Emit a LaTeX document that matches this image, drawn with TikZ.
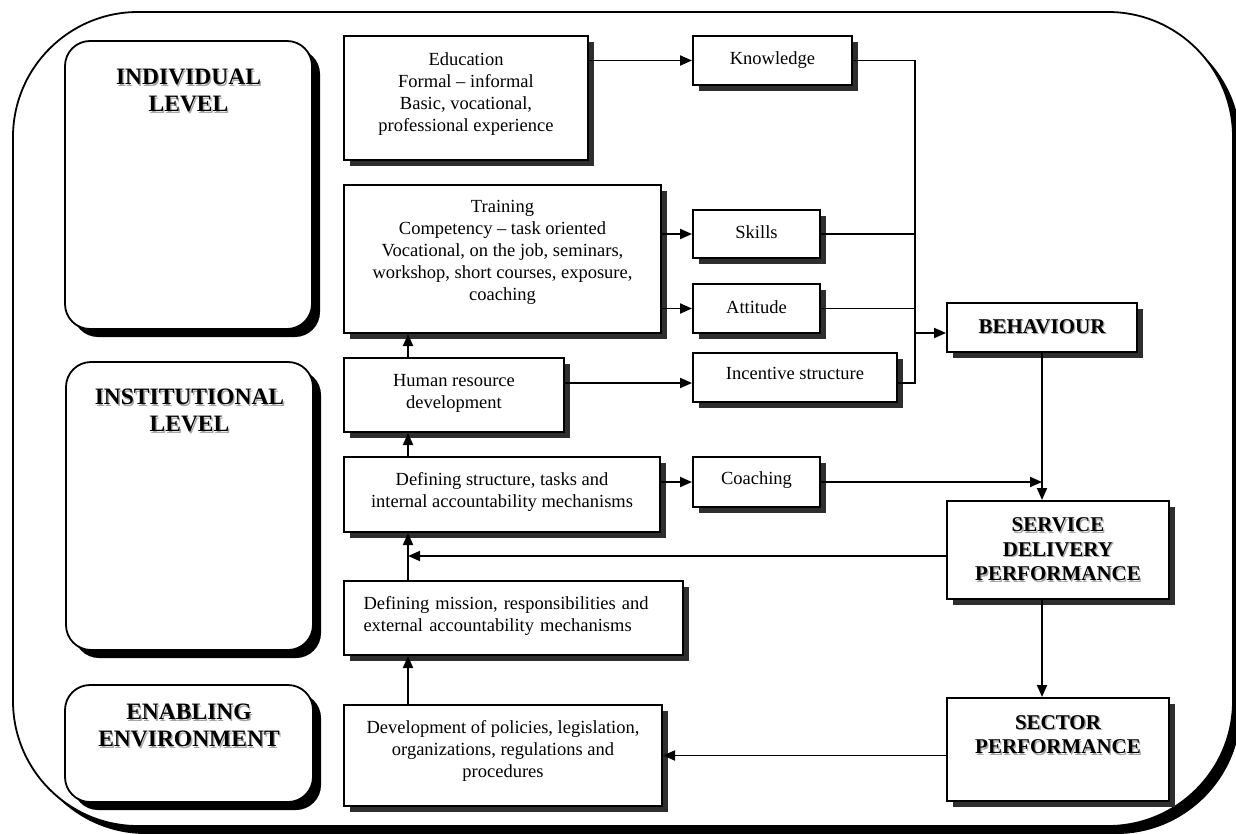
\documentclass[tikz,border=0pt]{standalone}
\usepackage{fontspec}
\setmainfont{Liberation Serif}
\usetikzlibrary{shadows,arrows.meta}

% type sizes
\newcommand\bodyfont{\fontsize{18.5}{22}\selectfont}
\newcommand\levelfont{\bfseries\fontsize{23.5}{27}\selectfont}
\newcommand\keyfont{\bfseries\fontsize{21}{24.5}\selectfont}
% one line of bold text with a soft grey shadow
\newcommand\sline[1]{\makebox[0pt][l]{\kern1.3pt\raisebox{-1.3pt}{\color{black!35}#1}}#1}
% invisible strut that lowers the bottom of a text block
\newcommand\lowpad[1]{\rule[-#1pt]{0pt}{#1pt}}

\begin{document}
\begin{tikzpicture}[x=1pt,y=-1pt,
  frame/.style={draw, line width=1.8pt, fill=white, rounded corners=125pt, inner sep=0pt,
    drop shadow={shadow xshift=8pt, shadow yshift=-8pt, fill=black, opacity=1}},
  levelbox/.style={draw, line width=1.8pt, fill=white, rounded corners=25pt, inner sep=0pt,
    drop shadow={shadow xshift=8pt, shadow yshift=-8pt, fill=black, opacity=1}},
  levellabel/.style={anchor=north, inner sep=0pt, align=center, font=\levelfont},
  box/.style={draw, line width=2pt, fill=white, inner sep=2pt, align=center, font=\bodyfont,
    drop shadow={shadow xshift=6pt, shadow yshift=-6pt, fill=black!82, opacity=1}},
  keybox/.style={box, font=\keyfont},
  conn/.style={line width=1.9pt},
  arr/.style={conn, -{Triangle[length=12pt,width=10pt]}}
]
\useasboundingbox (0,0) rectangle (1236,834);

% outer frame
\node[frame, minimum width=1220pt, minimum height=814pt] (frame) at (623,419) {};

% level panels
\node[levelbox, minimum width=247pt, minimum height=288pt] (indiv) at (188.5,185) {};
\node[levelbox, minimum width=247pt, minimum height=288pt] (instit) at (189.5,506) {};
\node[levelbox, minimum width=248pt, minimum height=117pt] (enabl) at (189,743.5) {};
\node[levellabel] (indivlab) at ([yshift=-29pt]indiv.north) {\sline{INDIVIDUAL}\\\sline{LEVEL}};
\node[levellabel] (institlab) at ([yshift=-28pt]instit.north) {\sline{INSTITUTIONAL}\\\sline{LEVEL}};
\node[levellabel] (enablab) at ([yshift=-20pt]enabl.north) {\sline{ENABLING}\\\sline{ENVIRONMENT}};

% capacity building boxes
\node[box, minimum width=244pt, minimum height=124pt] (edu) at (466,98)
  {Education\\Formal – informal\\Basic, vocational,\\professional experience\lowpad{12}};
\node[box, minimum width=159pt, minimum height=49pt] (know) at (772.5,60.5) {Knowledge\lowpad{5}};
\node[box, minimum width=317pt, minimum height=148pt] (trn) at (502.5,259)
  {Training\\Competency – task oriented\\Vocational, on the job, seminars,\\workshop, short courses, exposure,\\coaching\lowpad{17}};
\node[box, minimum width=127pt, minimum height=48pt] (skills) at (756.5,234) {Skills\lowpad{4}};
\node[box, minimum width=127pt, minimum height=49pt] (att) at (756.5,308.5) {Attitude\lowpad{3}};
\node[box, minimum width=220pt, minimum height=74pt] (hr) at (454,395) {Human resource\\development\lowpad{8}};
\node[box, minimum width=204pt, minimum height=49pt] (inc) at (795,377.5) {Incentive structure\lowpad{9}};
\node[box, minimum width=316pt, minimum height=75pt] (ds) at (502,494.5)
  {Defining structure, tasks and\\internal accountability mechanisms\lowpad{9}};
\node[box, minimum width=127pt, minimum height=50pt] (coach) at (756.5,482) {Coaching\lowpad{8}};
\node[box, minimum width=339pt, minimum height=74pt, text width=300pt, align=left] (mis) at (513.5,618)
  {Defining mission, responsibilities and\\external accountability mechanisms\lowpad{8}};
\node[box, minimum width=318pt, minimum height=101pt] (dev) at (503,755.5)
  {Development of policies, legislation,\\organizations, regulations and\\procedures\lowpad{14}};

% outcome boxes
\node[keybox, minimum width=190pt, minimum height=49pt] (beh) at (1042,327.5) {\sline{BEHAVIOUR}};
\node[keybox, minimum width=222pt, minimum height=98pt] (svc) at (1058,550)
  {\sline{SERVICE}\\\sline{DELIVERY}\\\sline{PERFORMANCE}};
\node[keybox, minimum width=222pt, minimum height=103pt] (sec) at (1058,749.5)
  {\sline{SECTOR}\\\sline{PERFORMANCE}\lowpad{30}};

% routing points
\coordinate (spine) at (408,0);
\coordinate (bus) at (915,0);
\coordinate (incL) at ([yshift=-5.5pt]inc.west);
\coordinate (incR) at ([yshift=-5.5pt]inc.east);
\coordinate (behL) at ([yshift=-5.5pt]beh.west);
\coordinate (svcL) at ([yshift=-6pt]svc.west);

% connectors
\draw[arr] (edu.east |- know.west) -- (know.west);
\draw[arr] (trn.east |- skills.west) -- (skills.west);
\draw[arr] (trn.east |- att.west) -- (att.west);
\draw[arr] (hr.east |- incL) -- (incL);
\draw[arr] (ds.east |- coach.west) -- (coach.west);
\draw[conn] (know.east) -| (bus |- incR) -- (incR);
\draw[conn] (skills.east) -- (skills.east -| bus);
\draw[conn] (att.east) -- (att.east -| bus);
\draw[arr] (bus |- behL) -- (behL);
\draw[arr] (beh.south) -- (beh.south |- svc.north);
\draw[arr] (coach.east) -- (coach.east -| beh.south);
\draw[arr] (beh.south |- svc.south) -- (beh.south |- sec.north);
\draw[arr] (svcL) -- (svcL -| spine);
\draw[arr] (sec.west |- dev.east) -- (dev.east);
\draw[arr] (spine |- dev.north) -- (spine |- mis.south);
\draw[arr] (spine |- mis.north) -- (spine |- ds.south);
\draw[arr] (spine |- ds.north) -- (spine |- hr.south);
\draw[arr] (spine |- hr.north) -- (spine |- trn.south);
\end{tikzpicture}
\end{document}
